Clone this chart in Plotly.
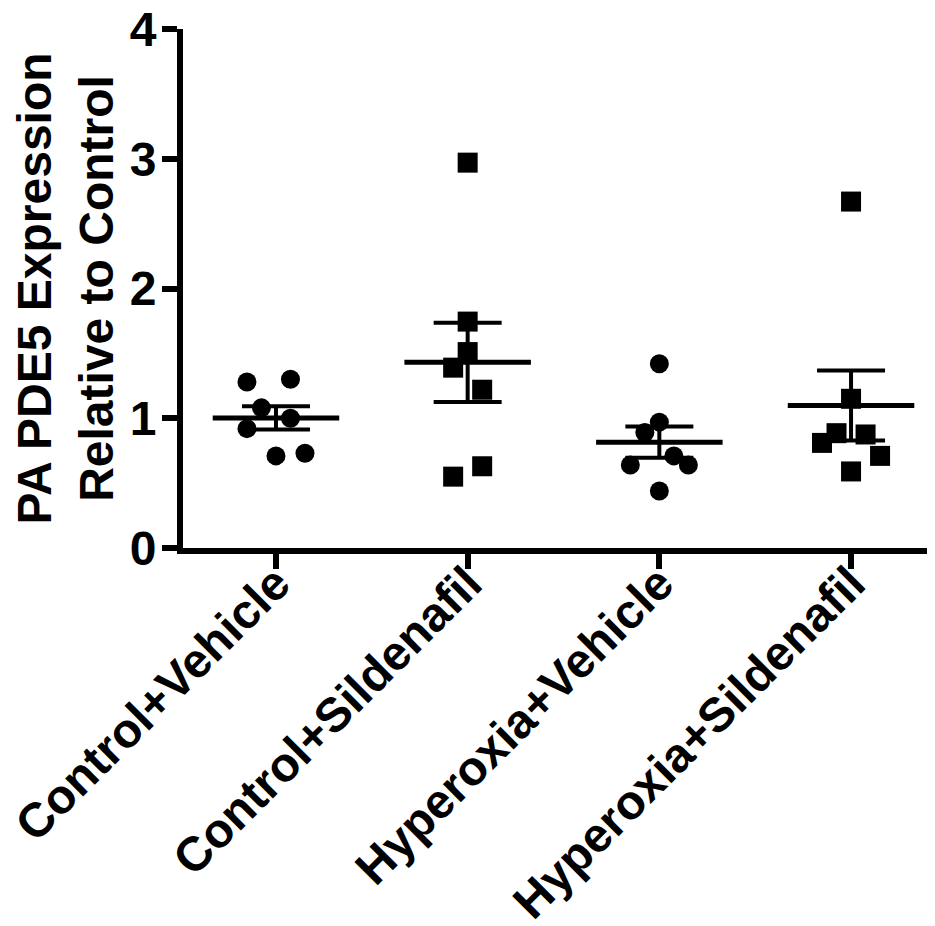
import numpy as np
import plotly.graph_objects as go

categories = ["Control+Vehicle", "Control+Sildenafil", "Hyperoxia+Vehicle", "Hyperoxia+Sildenafil"]
control_vehicle = [1.28, 1.30, 1.08, 1.00, 0.92, 0.71, 0.73]
control_sildenafil = [2.97, 1.745, 1.51, 1.39, 1.22, 0.55, 0.63]
hyperoxia_vehicle = [1.42, 0.97, 0.89, 0.71, 0.64, 0.64, 0.44]
hyperoxia_sildenafil = [2.67, 1.15, 0.885, 0.875, 0.81, 0.71, 0.59]
y_ticks = [0, 1, 2, 3, 4]

groups = [control_vehicle, control_sildenafil, hyperoxia_vehicle, hyperoxia_sildenafil]
symbols = ["circle", "square", "circle", "square"]
marker_sizes = [19, 20, 19, 20]
# column-scatter spread (in units of one marker step)
JITTER = [
    [-2, 1, -1, 1, -2, 0, 2],
    [0, 0, 0, -1, 1, -1, 1],
    [0, 0, -1, 1, -2, 2, 0],
    [0, 0, -1, 1, -2, 2, 0],
]
STEP = 0.0757
MEAN_HALF = 0.33
CAP_PX = 34

FONT = "Liberation Sans, Arial, sans-serif"
fig = go.Figure()

for i, vals in enumerate(groups):
    vals = np.array(vals)
    xs = [i + j * STEP for j in JITTER[i]]
    fig.add_trace(go.Scatter(
        x=xs, y=vals, mode="markers",
        marker=dict(symbol=symbols[i], size=marker_sizes[i], color="black", line=dict(width=0)),
        showlegend=False, hoverinfo="y"))
    m = vals.mean()
    sem = vals.std(ddof=1) / np.sqrt(len(vals))
    fig.add_trace(go.Scatter(
        x=[i - MEAN_HALF, i + MEAN_HALF], y=[m, m], mode="lines",
        line=dict(color="black", width=5), showlegend=False, hoverinfo="skip"))
    fig.add_trace(go.Scatter(
        x=[i], y=[m], mode="markers", marker=dict(size=1, opacity=0),
        error_y=dict(type="data", array=[sem], visible=True, color="black",
                     thickness=4, width=CAP_PX),
        showlegend=False, hoverinfo="skip"))

# page body has an 8px default margin, so the figure is sized to fit the window
fig.update_layout(
    width=927, height=918,
    margin=dict(l=175, r=0, t=21, b=378),
    plot_bgcolor="white", paper_bgcolor="white",
    font=dict(family=FONT, color="black", size=46),
    xaxis=dict(
        range=[-0.485, 3.438], tickmode="array", tickvals=list(range(len(categories))),
        ticktext=categories, tickangle=-45, automargin=False,
        showline=True, linewidth=6, linecolor="black",
        ticks="outside", ticklen=15, tickwidth=6, tickcolor="black",
        ticklabelstandoff=-33, ticklabeloverflow="allow",
        showgrid=False, zeroline=False,
        tickfont=dict(family=FONT, size=48, color="black", weight="bold"),
    ),
    yaxis=dict(
        range=[0, 4], tickmode="array", tickvals=y_ticks,
        ticktext=[str(v) for v in y_ticks], automargin=False,
        showline=True, linewidth=6, linecolor="black",
        ticks="outside", ticklen=15, tickwidth=6, tickcolor="black",
        ticklabeloverflow="allow", ticklabelstandoff=-4,
        showgrid=False, zeroline=False,
        tickfont=dict(family=FONT, size=48, color="black", weight="bold"),
        title=dict(text="PA PDE5 Expression<br>Relative to Control",
                   font=dict(family=FONT, size=48, color="black", weight="bold"),
                   standoff=26),
    ),
)

fig.write_html("out.html")
